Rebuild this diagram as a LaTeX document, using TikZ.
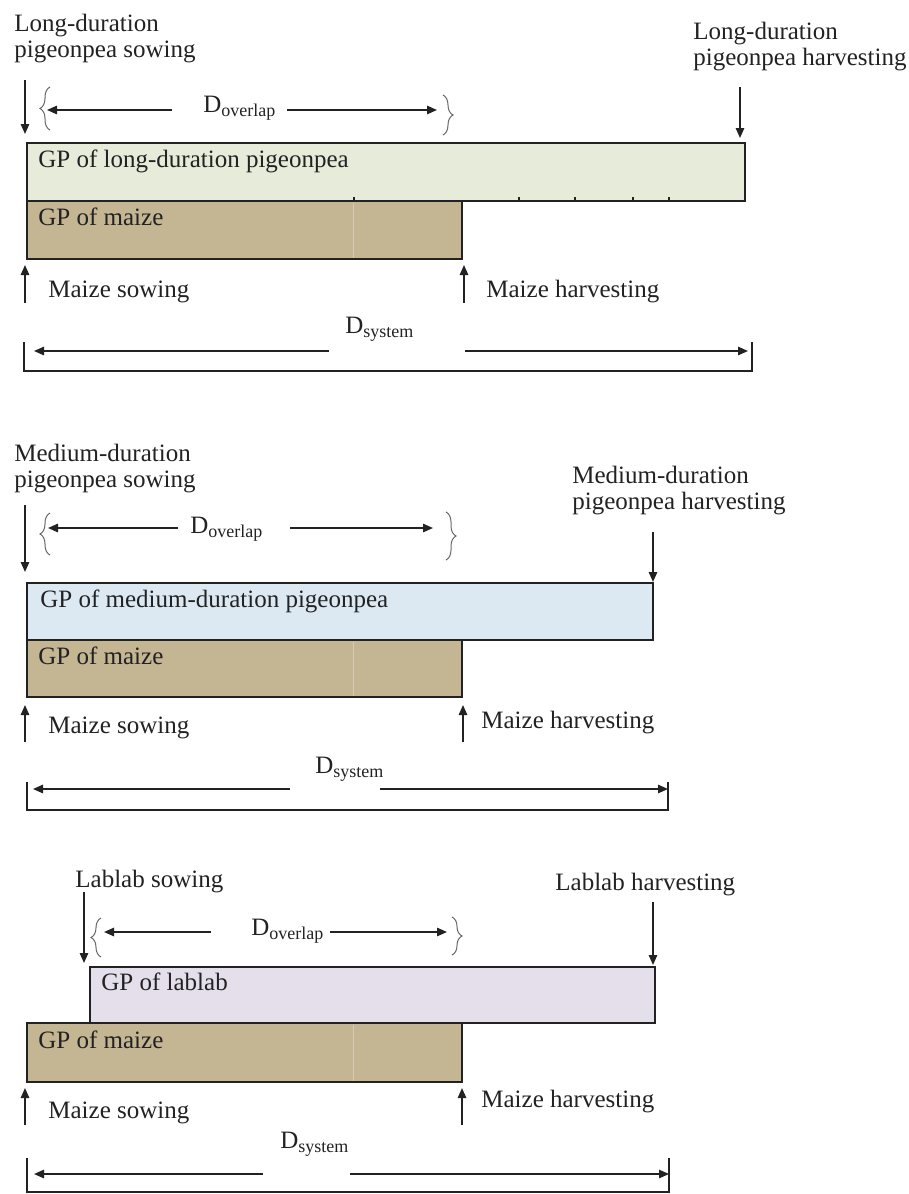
\documentclass[tikz,border=0pt]{standalone}
\usepackage{fontspec}
\setmainfont{Liberation Serif}
\usetikzlibrary{arrows.meta,decorations.pathreplacing}
\definecolor{longpp}{HTML}{E6EBDA}
\definecolor{maize}{HTML}{C4B593}
\definecolor{medpp}{HTML}{DCE9F3}
\definecolor{lablab}{HTML}{E4DFEA}
\definecolor{ink}{HTML}{222222}
\newcommand{\Dsub}[1]{D{\fontsize{9}{9}\selectfont\raisebox{-2pt}{#1}}}

\begin{document}
\begin{tikzpicture}[x=0.5pt, y=-0.5pt,
    lbl/.style={font=\fontsize{12.5}{13}\selectfont, text=ink, inner sep=0pt, anchor=base west, align=left},
    evarrow/.style={-{Triangle[length=5pt,width=4.2pt]}, line width=0.8pt, draw=ink},
    boxline/.style={draw=ink, line width=0.7pt},
    brc/.style={decorate, decoration={brace, amplitude=5pt}, draw=black!60, line width=0.5pt}]
    \useasboundingbox (0,0) rectangle (909,1194);

    % long-duration pigeonpea
    \node[lbl] (lpsow) at (14,57) {Long-duration\\pigeonpea sowing};
    \node[lbl] (lpharv) at (693,65) {Long-duration\\pigeonpea harvesting};
    \draw[evarrow] (25,80) -- (25,134);
    \draw[evarrow] (740,87) -- (740,138);
    \draw[brc] (50,130) -- (50,87);
    \draw[brc] (443,95) -- (443,135);
    \node[lbl] (dov1) at (203,112) {\Dsub{overlap}};
    \draw[evarrow] (172,110) -- (47,110);
    \draw[evarrow] (287,110) -- (437,110);
    \draw[boxline, fill=longpp] (27,143) rectangle (745,201);
    \draw[boxline, fill=maize] (27,201) rectangle (462,259);
    \draw[maize!70!white] (353,203) -- (353,258);
    \foreach \x in {354,519,575,633,669}
        \draw[boxline] (\x,201) -- (\x,197);
    \node[lbl] (gpl) at (38,167) {GP of long-duration pigeonpea};
    \node[lbl] (gpm1) at (38,225) {GP of maize};
    \draw[evarrow] (25,303) -- (25,265);
    \draw[evarrow] (464,303) -- (464,265);
    \node[lbl] (ms1) at (48,297) {Maize sowing};
    \node[lbl] (mh1) at (486,297) {Maize harvesting};
    \node[lbl] (dsy1) at (345,333) {\Dsub{system}};
    \draw[evarrow] (329,351) -- (34,351);
    \draw[evarrow] (465,351) -- (748,351);
    \draw[boxline] (24,342) -- (24,371) -- (752,371) -- (752,342);

    % medium-duration pigeonpea
    \node[lbl] (mpsow) at (14,487) {Medium-duration\\pigeonpea sowing};
    \node[lbl] (mpharv) at (572,509) {Medium-duration\\pigeonpea harvesting};
    \draw[evarrow] (25,505) -- (25,572);
    \draw[evarrow] (653,532) -- (653,582);
    \draw[brc] (50,555) -- (50,513);
    \draw[brc] (446,512) -- (446,560);
    \node[lbl] (dov2) at (190,533) {\Dsub{overlap}};
    \draw[evarrow] (178,528) -- (48,528);
    \draw[evarrow] (290,528) -- (433,528);
    \draw[boxline, fill=medpp] (27,583) rectangle (653,640);
    \draw[boxline, fill=maize] (27,640) rectangle (462,697);
    \draw[maize!70!white] (353,642) -- (353,696);
    \node[lbl] (gpmd) at (40,607) {GP of medium-duration pigeonpea};
    \node[lbl] (gpm2) at (38,664) {GP of maize};
    \draw[evarrow] (25,742) -- (25,705);
    \draw[evarrow] (463,742) -- (463,705);
    \node[lbl] (ms2) at (48,733) {Maize sowing};
    \node[lbl] (mh2) at (481,728) {Maize harvesting};
    \node[lbl] (dsy2) at (315,773) {\Dsub{system}};
    \draw[evarrow] (290,789) -- (33,789);
    \draw[evarrow] (380,789) -- (668,789);
    \draw[boxline] (27,782) -- (27,810) -- (668,810) -- (668,782);

    % lablab
    \node[lbl] (llsow) at (75,887) {Lablab sowing};
    \node[lbl] (llharv) at (555,890) {Lablab harvesting};
    \draw[evarrow] (84,892) -- (84,963);
    \draw[evarrow] (653,902) -- (653,965);
    \draw[brc] (101,957) -- (101,918);
    \draw[brc] (452,917) -- (452,955);
    \node[lbl] (dov3) at (251,935) {\Dsub{overlap}};
    \draw[evarrow] (211,932) -- (104,932);
    \draw[evarrow] (330,932) -- (447,932);
    \draw[boxline, fill=lablab] (90,967) rectangle (655,1023);
    \draw[boxline, fill=maize] (27,1023) rectangle (462,1082);
    \draw[maize!70!white] (353,1025) -- (353,1081);
    \node[lbl] (gpll) at (101,990) {GP of lablab};
    \node[lbl] (gpm3) at (38,1048) {GP of maize};
    \draw[evarrow] (25,1125) -- (25,1088);
    \draw[evarrow] (462,1125) -- (462,1088);
    \node[lbl] (ms3) at (48,1118) {Maize sowing};
    \node[lbl] (mh3) at (481,1107) {Maize harvesting};
    \node[lbl] (dsy3) at (280,1148) {\Dsub{system}};
    \draw[evarrow] (263,1174) -- (34,1174);
    \draw[evarrow] (350,1174) -- (669,1174);
    \draw[boxline] (27,1158) -- (27,1192) -- (669,1192) -- (669,1158);
\end{tikzpicture}
\end{document}
